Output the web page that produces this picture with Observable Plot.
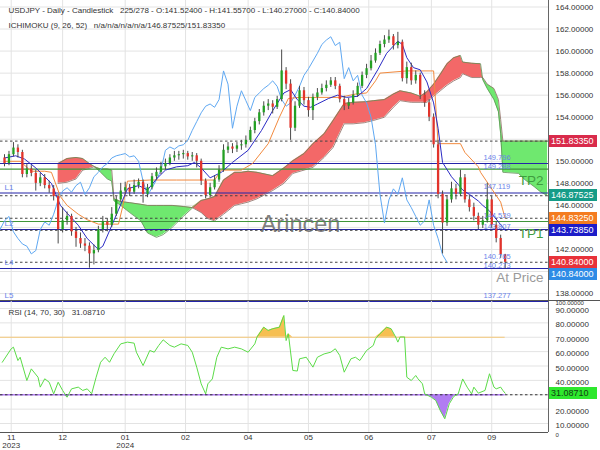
<!DOCTYPE html>
<html><head><meta charset="utf-8">
<script src="https://cdn.jsdelivr.net/npm/d3@7"></script>
<script src="https://cdn.jsdelivr.net/npm/@observablehq/plot@0.6"></script>
<style>
body{margin:0;background:#fff;font-family:"Liberation Sans",Arial,sans-serif;}
#wrap{position:relative;width:600px;height:450px;overflow:hidden;background:#fff;}
#wrap svg{position:absolute;left:0;overflow:visible;}
.tag{position:absolute;left:549px;width:48px;height:12px;line-height:12px;font-size:9px;color:#fff;padding-left:2px;box-sizing:border-box;white-space:nowrap;}
.sep{position:absolute;left:0;top:300px;width:600px;height:1px;background:#555;}
</style></head><body><div id="wrap"></div><script>
// ---------- data ----------
const headerMain = "USDJPY - Daily - Candlestick\u00a0\u00a0\u00a0225/278 - O:141.52400 - H:141.55700 - L:140.27000 - C:140.84000";
const headerIchi = "ICHIMOKU (9, 26, 52)\u00a0\u00a0\u00a0n/a/n/a/n/a/n/a/146.87525/151.83350";
const headerRsi = "RSI (14, 70, 30)\u00a0\u00a0\u00a031.08710";

const opens = [150.3,149.8,150.6,151.2,150.8,148.8,149.3,148.9,148.0,148.5,
147.8,147.5,146.8,143.8,144.6,145.0,143.6,143.0,142.5,142.3,
141.6,141.9,143.8,144.5,144.2,145.2,146.5,147.3,147.6,147.2,
147.8,148.1,147.0,147.6,148.6,149.0,149.5,149.8,150.3,150.5,
150.6,150.7,150.4,150.5,150.0,148.2,146.9,147.6,148.3,149.2,
151.0,151.3,151.1,151.4,151.5,151.9,152.8,153.6,154.4,155.0,
155.2,154.9,155.6,158.2,157.0,153.0,155.0,156.4,155.5,154.6,
155.8,156.2,156.6,156.9,157.3,156.8,155.6,155.0,155.3,156.0,
156.8,157.8,158.4,159.1,159.8,160.6,161.0,161.3,160.5,160.8,
157.5,158.5,157.3,157.8,156.0,155.3,154.0,151.5,147.0,144.4,
146.5,147.5,147.0,148.5,146.5,145.8,145.0,144.2,144.6,146.5,
144.2,143.0,141.524];
const closes = [149.8,150.6,151.2,150.8,148.8,149.3,148.9,148.0,148.5,147.8,
147.5,146.8,143.8,144.6,145.0,143.6,143.0,142.5,142.3,141.6,
141.9,143.8,144.5,144.2,145.2,146.5,147.3,147.6,147.2,147.8,
148.1,147.0,147.6,148.6,149.0,149.5,149.8,150.3,150.5,150.6,
150.7,150.4,150.5,150.0,148.2,146.9,147.6,148.3,149.2,151.0,
151.3,151.1,151.4,151.5,151.9,152.8,153.6,154.4,155.0,155.2,
154.9,155.6,158.2,157.0,153.0,155.0,156.4,155.5,154.6,155.8,
156.2,156.6,156.9,157.3,156.8,155.6,155.0,155.3,156.0,156.8,
157.8,158.4,159.1,159.8,160.6,161.0,161.3,160.5,160.8,157.5,
158.5,157.3,157.8,156.0,155.3,154.0,151.5,147.0,144.4,146.5,
147.5,147.0,148.5,146.5,145.8,145.0,144.2,144.6,146.5,144.2,
143.0,141.524,140.84];
const highs = [150.6,150.9,151.7,151.5,151.0,149.7,149.6,149.2,148.9,148.8,
148.2,147.8,147.0,145.8,145.4,145.2,144.0,143.5,143.0,142.6,
142.4,144.1,145.0,144.8,145.8,146.8,148.0,148.1,147.9,148.3,
148.4,148.3,147.9,148.9,149.4,149.9,150.2,150.6,150.9,150.9,
151.0,150.9,150.8,150.7,150.2,148.4,148.0,148.7,149.6,151.5,
151.7,151.6,151.7,151.9,152.3,153.1,153.9,154.7,155.4,155.6,
155.5,155.9,160.1,158.5,157.4,155.4,156.8,156.7,155.8,156.1,
156.6,157.0,157.3,157.6,157.6,157.0,155.9,155.7,156.4,157.1,
158.1,158.8,159.6,160.2,160.9,161.4,161.9,161.5,161.7,161.0,
159.0,158.9,158.2,158.0,156.4,155.6,154.3,151.9,147.3,146.9,
148.1,147.9,149.2,148.8,146.9,146.2,145.3,145.0,148.0,146.8,
144.5,143.3,141.557];
const lows = [149.5,149.6,150.4,150.3,148.5,148.5,148.6,147.3,147.7,147.5,
147.1,146.4,142.5,143.5,144.2,143.2,142.2,142.1,141.8,140.3,
140.6,141.7,143.5,143.6,144.0,145.0,146.3,147.0,146.8,147.0,
147.5,146.2,146.7,147.4,148.3,148.8,149.2,149.6,150.0,150.1,
150.2,150.1,150.0,149.4,147.8,146.6,146.7,147.4,148.1,149.0,
150.7,150.7,150.8,151.0,151.2,151.7,152.5,153.3,154.1,154.6,
154.3,154.7,155.4,156.5,151.9,152.7,154.8,155.1,154.0,153.7,
155.5,156.0,156.3,156.7,156.5,155.3,154.6,154.7,155.1,155.8,
156.6,157.5,158.2,158.9,159.6,160.3,160.7,160.1,160.2,157.2,
157.0,156.9,157.0,155.6,154.9,153.6,151.2,146.6,141.6,144.1,
146.2,146.5,146.8,146.2,145.4,144.6,143.8,143.9,144.4,143.9,
142.6,141.2,140.27];

// Ichimoku lines (bar index -> price)
const tenkanT = [0,5,9,14,18,21,25,28,33,37,42,44,47,51,55,60,64,68,72,77,82,85,88,92,97,102,109,115,120,125,128,131,134,137,140,145,149,153,158,162,167,171,176,178,180,183,186,189,192,194,196,200,203,205,208,212,214,217,221,223,224];
const tenkanV = [150.3,150.5,150.2,149.4,148.6,148.0,146.0,145.3,144.2,143.0,142.0,142.3,143.7,145.6,147.5,147.8,147.4,148.4,149.2,149.5,149.6,149.9,149.4,148.5,149.0,149.9,151.0,152.8,154.6,156.2,156.5,155.6,155.0,154.9,155.2,155.7,156.0,155.8,155.9,156.6,158.3,159.8,160.9,160.6,159.4,158.5,158.3,157.2,155.3,153.0,149.9,148.6,147.9,147.4,147.0,146.4,146.0,145.5,144.5,144.0,143.7385];
const kijunT = [0,7,12,18,21,25,28,33,37,42,51,53,55,65,77,88,94,97,106,111,118,123,127,132,150,157,162,166,168,180,192,194,204,206,212,213,217,222,224];
const kijunV = [150.0,150.0,149.1,149.1,149.0,146.8,146.0,145.2,144.7,144.3,144.3,146.0,148.2,148.3,148.3,148.3,148.3,149.2,149.2,149.8,151.6,154.0,155.7,155.8,155.8,156.1,156.2,157.3,158.0,158.2,158.2,151.6,151.6,150.8,149.5,149.0,147.8,146.3,144.8325];
const cloudT = [24,28,32,35,38,40,43,46,48,49,52,56,61,64,68,71,75,80,84,88,91,94,98,103,106,109,113,120,125,129,134,138,143,147,152,156,161,165,170,174,177,182,186,189,192,195,198,201,204,205,209,213,214,216,219,221,222,223,230,233,237,240,243];
const spanA = [149.8,150.25,150.35,150.25,149.8,149.55,149.0,148.4,148.2,146.4,146.0,145.35,144.6,143.5,143.1,143.35,144.0,145.0,145.75,146.45,146.6,146.8,148.3,149.0,149.0,149.1,149.0,148.7,149.4,150.05,150.7,151.6,152.5,153.7,155.25,155.35,155.4,155.5,155.6,156.1,156.4,156.2,155.9,156.3,157.0,157.9,158.85,159.4,159.6,159.0,158.9,158.85,157.4,156.6,155.6,154.5,152.5,149.0,148.9,148.3,147.7,147.2,146.87525];
const spanB = [148.0,148.1,148.4,149.2,149.35,149.5,149.3,149.3,149.2,146.6,146.35,146.25,146.1,146.0,146.0,146.0,146.0,145.9,145.8,145.35,144.8,144.6,145.2,146.0,146.15,146.3,146.6,147.35,148.0,148.9,149.2,149.45,150.35,151.25,153.4,153.4,153.5,153.7,154.0,154.9,155.5,155.35,155.35,155.35,155.9,156.4,156.9,157.3,157.6,157.95,157.6,157.6,157.6,157.0,156.6,155.6,153.8,151.8335,151.8335,151.8335,151.8335,151.8335,151.8335];
const chikouShift = 26;

// RSI
const rsiT = [-1,3,4,6,7,10,12,15,16,18,20,22,24,26,28,30,33,35,37,39,41,43,45,47,49,52,55,58,59,62,65,67,69,71,74,76,79,82,84,86,88,90,91,93,95,97,100,103,106,109,112,113,116,118,120,123,125,126,127,129,131,132,135,138,140,143,146,148,150,152,155,157,159,162,165,166,168,171,173,175,176,177,179,180,182,184,185,187,188,191,193,195,197,199,201,203,205,207,209,210,212,215,217,219,220,222,223,224];
const rsiV = [52.6,62.0,63.1,53.8,56.1,39.9,48.0,42.2,35.3,41.1,38.7,30.6,38.7,33.0,28.3,34.1,35.3,33.0,34.1,30.7,42.2,52.6,56.1,52.6,58.5,65.4,66.6,65.9,59.6,50.3,60.8,59.6,64.3,68.2,64.3,63.1,65.4,64.3,59.6,49.2,37.6,30.6,37.6,41.0,56.1,63.1,61.9,63.1,61.9,59.6,65.4,70.2,77.0,74.7,75.9,77.0,85.1,67.7,72.4,46.9,46.5,55.0,56.1,49.2,56.1,58.4,59.6,62.0,57.3,45.7,55.0,56.1,53.8,60.8,64.3,68.9,72.4,77.0,75.9,70.2,66.6,70.2,70.2,42.2,39.9,43.4,41.1,37.6,30.6,28.3,26.0,19.0,13.3,23.7,28.8,30.6,41.0,35.3,30.6,35.3,31.1,33.0,44.6,35.3,34.1,35.3,33.0,31.087];
const rsiUpper = 70, rsiLower = 30, rsiLast = 31.0871;

// Levels
const navyLevels = [149.796, 147.119, 143.807, 140.273, 137.277];
const greenLevels = [149.288, 144.539];
const markerLevels = [151.8335, 146.87525, 144.8325, 143.7385, 140.84];
const upperLabels = [149.796, 147.119, 144.539, 140.765, 137.277];
const lowerLabels = [149.288, 143.807, 140.273];
const leftNames = ["L1", "L2", "L4", "L5"];
const leftLevels = [147.119, 143.807, 140.273, 137.277];
const tpNames = ["TP2", "TP1"];
const tpLevels = [149.288, 144.539];
const atPriceLevel = 140.84;
const tagValues = [151.8335, 146.87525, 144.8325, 143.7385, 140.84, 140.84];

// Axes (labels hidden behind the value tags are left out, as in the reference)
const priceGrid = [138,140,142,144,146,148,150,152,154,156,158,160,162,164];
const priceLabels = [138,142,146,148,150,154,156,158,160,162,164];
const rsiGrid = [10,20,30,40,50,60,70,80,90];
const rsiLabels = [10,20,40,50,60,70,80,90];
const tickT = [3,26,54,81,109,136,163,191,218];
const tickLabels = ["11\n2023","12","01\n2024","02","04","05","06","07","09"];

// ---------- styles ----------
const tagColors = ["#d92b4b","#169c88","#f47c20","#1c1cc8","#e8323a","#2d8be6"];
const tagOffsets = [0,0,0,0,0,12];
const T0 = -1.79, T1 = 243.4;
const font = "Liberation Sans, Arial, sans-serif";

// ---------- build ----------
const candles = closes.map((c, i) => ({t: 2 * i, o: opens[i], h: highs[i], l: lows[i], c}));
const tenkan = tenkanT.map((t, i) => ({t, v: tenkanV[i]}));
const kijun = kijunT.map((t, i) => ({t, v: kijunV[i]}));
const cloud = cloudT.map((t, i) => ({t, a: spanA[i], b: spanB[i]}));
const rsi = rsiT.map((t, i) => ({t, v: rsiV[i]}));
const lastT = candles[candles.length - 1].t;
const labelOf = new Map(tickT.map((t, i) => [t, tickLabels[i]]));
const grid = {stroke: "#e3e3e3", strokeOpacity: 1};
const lvlText = {y: d => d, text: d => d.toFixed(3), frameAnchor: "right", dx: -65, textAnchor: "start", fill: "#6a84ea", fontSize: 7.5};

const main = Plot.plot({
  width: 600, height: 301,
  marginLeft: 0, marginRight: 52, marginTop: 0, marginBottom: 0,
  x: {domain: [T0, T1], axis: null},
  y: {domain: [137.28, 164.59]},
  style: {fontFamily: font, fontSize: "8px", color: "#333", background: "transparent"},
  marks: [
    Plot.gridY(priceGrid, grid),
    Plot.gridX(tickT, grid),
    Plot.areaY(cloud, {x: "t", y1: "b", y2: d => Math.max(d.a, d.b), fill: "#f36868"}),
    Plot.areaY(cloud, {x: "t", y1: "a", y2: d => Math.max(d.a, d.b), fill: "#6fe86f"}),
    Plot.line(cloud, {x: "t", y: "a", stroke: "#5f8f55", strokeWidth: 0.8}),
    Plot.line(cloud, {x: "t", y: "b", stroke: "#8a6a60", strokeWidth: 0.8}),
    Plot.ruleY(navyLevels, {stroke: "#2424a8", strokeWidth: 1.1}),
    Plot.ruleY(greenLevels, {stroke: "#3f963a", strokeWidth: 1.1}),
    Plot.ruleY(markerLevels, {stroke: "#444", strokeDasharray: "2.5,2.5", strokeWidth: 1}),
    Plot.line(candles, {x: d => d.t - chikouShift, y: "c", stroke: "#5fa8f2", strokeWidth: 1, clip: true}),
    Plot.line(kijun, {x: "t", y: "v", stroke: "#f28a3e", strokeWidth: 1}),
    Plot.line(tenkan, {x: "t", y: "v", stroke: "#2b2bc4", strokeWidth: 1}),
    Plot.ruleX(candles, {x: "t", y1: "l", y2: "h", stroke: "#4a4a4a", strokeWidth: 1}),
    Plot.ruleX(candles, {x: "t", y1: "o", y2: "c", stroke: d => d.c >= d.o ? "#23a023" : "#e2332b", strokeWidth: 2.3}),
    Plot.text(upperLabels, {...lvlText, dy: -6}),
    Plot.text(lowerLabels, {...lvlText, dy: -3}),
    Plot.text(leftNames, {y: (d, i) => leftLevels[i], text: d => d, frameAnchor: "left", dx: 4, dy: -6, textAnchor: "start", fill: "#6a84ea", fontSize: 8}),
    Plot.text(tpNames, {y: (d, i) => tpLevels[i], text: d => d, frameAnchor: "right", dx: -5, dy: 12, textAnchor: "end", fill: "#3f9d3f", fontSize: 13.5}),
    Plot.text([atPriceLevel], {y: d => d, text: () => "At Price", frameAnchor: "right", dx: -5, dy: 15, textAnchor: "end", fill: "#9a9a9a", fontSize: 13.5}),
    Plot.text(["Arincen"], {text: d => d, frameAnchor: "middle", dx: 26, dy: 73, fontSize: 23.5, fill: "#6a6a6a", fillOpacity: 0.85}),
    Plot.text([headerMain], {text: d => d, frameAnchor: "top-left", dx: 8, dy: 10, textAnchor: "start", lineAnchor: "middle", fontSize: 8, fill: "#333"}),
    Plot.text([headerIchi], {text: d => d, frameAnchor: "top-left", dx: 8, dy: 25, textAnchor: "start", lineAnchor: "middle", fontSize: 8, fill: "#333"}),
    Plot.axisY(priceLabels, {anchor: "right", tickSize: 0, tickPadding: 7, tickFormat: d => d.toFixed(5), fontSize: 8, label: null}),
    Plot.ruleX([T1], {stroke: "#666"})
  ]
});

const rsiChart = Plot.plot({
  width: 600, height: 149,
  marginLeft: 0, marginRight: 52, marginTop: 0, marginBottom: 18,
  x: {domain: [T0, T1]},
  y: {domain: [3.74, 94.87]},
  style: {fontFamily: font, fontSize: "8px", color: "#333", background: "transparent"},
  marks: [
    Plot.gridY(rsiGrid, grid),
    Plot.gridX(tickT, grid),
    Plot.areaY(rsi, {x: "t", y1: rsiUpper, y2: d => Math.max(d.v, rsiUpper), fill: "#f6bf52"}),
    Plot.areaY(rsi, {x: "t", y1: rsiLower, y2: d => Math.min(d.v, rsiLower), fill: "#b17cf2"}),
    Plot.ruleY([rsiUpper], {x1: T0, x2: lastT, stroke: "#f5c878", strokeWidth: 1.2}),
    Plot.ruleY([rsiLower], {x1: T0, x2: lastT, stroke: "#b17cf2", strokeWidth: 1.6}),
    Plot.ruleY([rsiLower], {stroke: "#333", strokeDasharray: "2.5,2.5", strokeWidth: 1}),
    Plot.line(rsi, {x: "t", y: "v", stroke: "#5cdc48", strokeWidth: 1}),
    Plot.text([headerRsi], {text: d => d, frameAnchor: "top-left", dx: 8, dy: 11, textAnchor: "start", lineAnchor: "middle", fontSize: 8, fill: "#333"}),
    Plot.text(["100.00000"], {text: d => d, frameAnchor: "top-right", dx: 7, dy: -0.5, textAnchor: "start", lineAnchor: "top", fontSize: 6, fill: "#333"}),
    Plot.text(["0"], {text: d => d, frameAnchor: "bottom-right", dx: 7, dy: 2.5, textAnchor: "start", lineAnchor: "middle", fontSize: 6, fill: "#333"}),
    Plot.axisY(rsiLabels, {anchor: "right", tickSize: 0, tickPadding: 7, tickFormat: d => d.toFixed(5), fontSize: 8, label: null, dy: 2}),
    Plot.axisX(tickT, {anchor: "bottom", tickSize: 0, tickPadding: 2, tickFormat: d => labelOf.get(d), fontSize: 8, label: null}),
    Plot.ruleX([T1], {stroke: "#666"}),
    Plot.ruleY([3.74], {stroke: "#555"})
  ]
});

const wrap = document.getElementById("wrap");
main.style.top = "0px";
rsiChart.style.top = "301px";
wrap.appendChild(main);
wrap.appendChild(rsiChart);
const sep = document.createElement("div"); sep.className = "sep"; wrap.appendChild(sep);

const ys = main.scale("y");
tagValues.forEach((v, i) => {
  const d = document.createElement("div");
  d.className = "tag";
  d.style.top = (ys.apply(v) + tagOffsets[i] - 6) + "px";
  d.style.background = tagColors[i];
  d.textContent = v.toFixed(5);
  wrap.appendChild(d);
});
const rs = rsiChart.scale("y");
const rt = document.createElement("div");
rt.className = "tag";
rt.style.top = (301 + rs.apply(rsiLast) - 6) + "px";
rt.style.background = "#2ee82e";
rt.style.color = "#124012";
rt.textContent = rsiLast.toFixed(5);
wrap.appendChild(rt);
</script></body></html>
